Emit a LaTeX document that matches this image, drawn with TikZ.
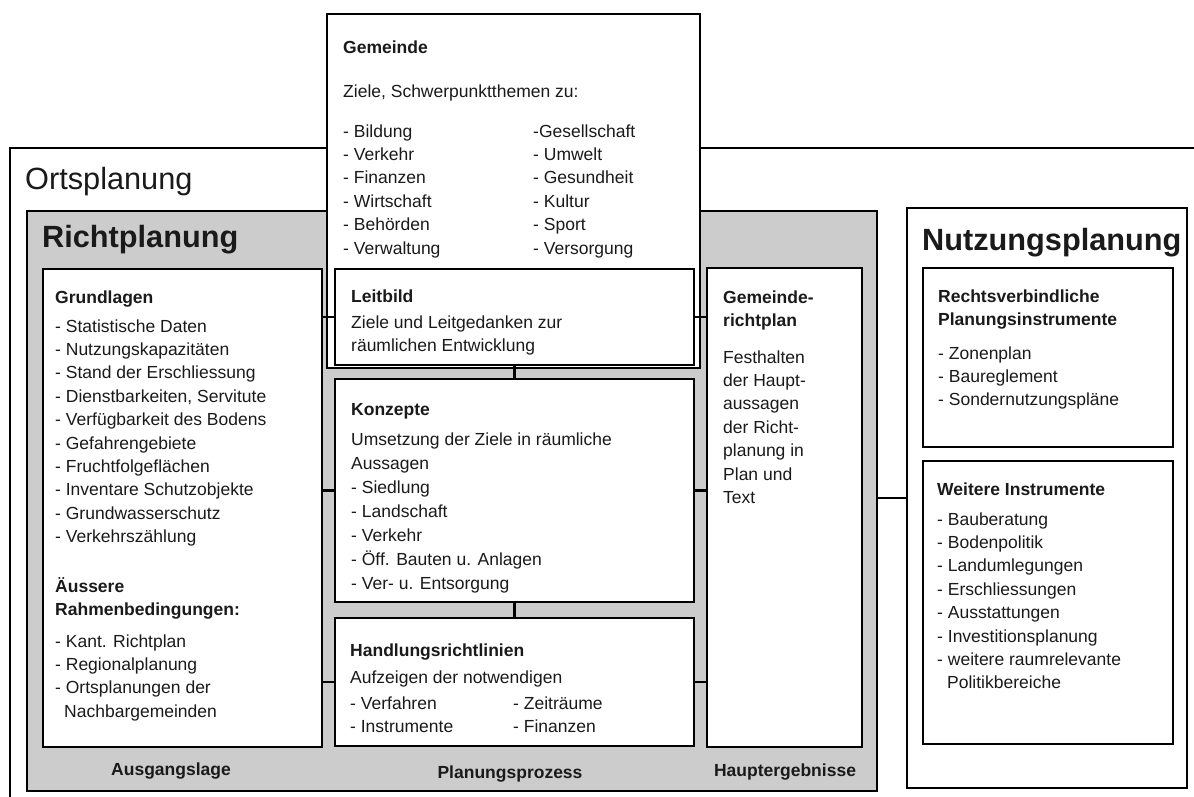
\documentclass[tikz,border=0pt]{standalone}
\usepackage{fontspec}
\setmainfont{Liberation Sans}
\usetikzlibrary{fit}
\definecolor{grayfill}{HTML}{CCCCCC}
\definecolor{txt}{HTML}{1A1A1A}
\tikzset{
  frame/.style={draw=black, line width=2.2pt, inner sep=0pt, fill=white},
  grayframe/.style={frame, fill=grayfill},
  conn/.style={draw=black, line width=2.2pt},
  lbl/.style={anchor=base west, inner sep=0pt, text=txt, font=\fontsize{17.5}{23.4}\selectfont},
  lblw/.style={anchor=base west, inner sep=0pt, text=txt, font=\fontsize{17.5}{24}\selectfont},
  hd/.style={anchor=base west, inner sep=0pt, text=txt, font=\fontsize{17.5}{23.4}\selectfont\bfseries},
  big/.style={anchor=base west, inner sep=0pt, text=txt, font=\fontsize{30.7}{36}\selectfont\bfseries},
  bigreg/.style={anchor=base west, inner sep=0pt, text=txt, font=\fontsize{30.7}{36}\selectfont},
  foot/.style={anchor=base, inner sep=0pt, text=txt, font=\fontsize{17.5}{23.4}\selectfont\bfseries},
}
\newcommand{\tlines}[1]{\begin{tabular}[t]{@{}l@{}}#1\end{tabular}}
\begin{document}
\begin{tikzpicture}[x=1pt, y=-1pt]
\useasboundingbox[clip] (0,0) rectangle (1194,796);
\fill[white] (0,0) rectangle (1194,796);

% outer Ortsplanung frame (open at right and bottom)
\node[frame, fill=none, fit={(10,148) (1210,820)}] (orts) {};
\node[bigreg] (ortst) at (25,189) {Ortsplanung};

% Richtplanung gray box
\node[grayframe, fit={(27,211) (877,791)}] (rich) {};
\node[big] (richt) at (42,247) {Richtplanung};

% Nutzungsplanung box
\node[frame, fit={(907,208) (1187,788)}] (nutz) {};
\node[big] (nutzt) at (922,250) {Nutzungsplanung};

% inner boxes of Richtplanung
\node[frame, fit={(43,269) (322,747)}] (grund) {};
\node[frame, fit={(707,268) (862,747)}] (grp) {};
\node[frame, fit={(335,379) (694,602)}] (konz) {};
\node[frame, fit={(335,618) (694,746)}] (hand) {};

% Gemeinde box and Leitbild
\node[frame, fit={(327,14) (700,368)}] (gem) {};
\node[frame, fit={(335,269) (694,365)}] (leit) {};

% inner boxes of Nutzungsplanung
\node[frame, fit={(923,268) (1173,447)}] (rv) {};
\node[frame, fit={(923,461) (1173,744)}] (wi) {};

% connectors
\draw[conn] (grund.east |- leit.west) -- (leit.west);
\draw[conn] (grund.east |- konz.west) -- (konz.west);
\draw[conn] (grund.east |- hand.west) -- (hand.west);
\draw[conn] (leit.east) -- (leit.east -| grp.west);
\draw[conn] (konz.east) -- (konz.east -| grp.west);
\draw[conn] (hand.east) -- (hand.east -| grp.west);
\draw[conn] (leit.south) -- (konz.north);
\draw[conn] (konz.south) -- (hand.north);
\draw[conn] (rich.east |- nutz.west) -- (nutz.west);

% Gemeinde texts
\node[hd] (gemh) at (343,53) {Gemeinde};
\node[lbl] (gemz) at (343,97) {Ziele, Schwerpunktthemen zu:};
\node[lbl] (gemc1) at (343,137) {\tlines{- Bildung\\- Verkehr\\- Finanzen\\- Wirtschaft\\- Behörden\\- Verwaltung}};
\node[lbl] (gemc2) at (533,137) {\tlines{-Gesellschaft\\- Umwelt\\- Gesundheit\\- Kultur\\- Sport\\- Versorgung}};

% Leitbild texts
\node[hd] (leith) at (351,302) {Leitbild};
\node[lbl] (leitt) at (351,328) {\tlines{Ziele und Leitgedanken zur\\räumlichen Entwicklung}};

% Konzepte texts
\node[hd] (konzh) at (351,415) {Konzepte};
\node[lblw] (konzt) at (351,445) {\tlines{Umsetzung der Ziele in räumliche\\Aussagen\\- Siedlung\\- Landschaft\\- Verkehr\\- Öff. Bauten u. Anlagen\\- Ver- u. Entsorgung}};

% Handlungsrichtlinien texts
\node[hd] (handh) at (350,656) {Handlungsrichtlinien};
\node[lbl] (handt) at (350,683) {Aufzeigen der notwendigen};
\node[lbl] (handc1) at (350,709) {\tlines{- Verfahren\\- Instrumente}};
\node[lbl] (handc2) at (513,709) {\tlines{- Zeiträume\\- Finanzen}};

% Grundlagen texts
\node[hd] (grundh) at (55,303) {Grundlagen};
\node[lbl] (grundt) at (55,332) {\tlines{- Statistische Daten\\- Nutzungskapazitäten\\- Stand der Erschliessung\\- Dienstbarkeiten, Servitute\\- Verfügbarkeit des Bodens\\- Gefahrengebiete\\- Fruchtfolgeflächen\\- Inventare Schutzobjekte\\- Grundwasserschutz\\- Verkehrszählung}};
\node[hd] (ausseh) at (55,592) {\tlines{Äussere\\Rahmenbedingungen:}};
\node[lbl] (ausset) at (55,647) {\tlines{- Kant. Richtplan\\- Regionalplanung\\- Ortsplanungen der\\\hspace{9pt}Nachbargemeinden}};

% Gemeinderichtplan texts
\node[hd] (grph) at (723,303) {\tlines{Gemeinde-\\richtplan}};
\node[lbl] (grpt) at (723,363) {\tlines{Festhalten\\der Haupt-\\aussagen\\der Richt-\\planung in\\Plan und\\Text}};

% Nutzungsplanung texts
\node[hd] (rvh) at (938,302) {\tlines{Rechtsverbindliche\\Planungsinstrumente}};
\node[lbl] (rvt) at (938,359) {\tlines{- Zonenplan\\- Baureglement\\- Sondernutzungspläne}};
\node[hd] (wih) at (937,495) {Weitere Instrumente};
\node[lbl] (wit) at (937,525) {\tlines{- Bauberatung\\- Bodenpolitik\\- Landumlegungen\\- Erschliessungen\\- Ausstattungen\\- Investitionsplanung\\- weitere raumrelevante\\\hspace{10pt}Politikbereiche}};

% footers
\node[foot] (f1) at (171,775) {Ausgangslage};
\node[foot] (f2) at (510,778) {Planungsprozess};
\node[foot] (f3) at (785,776) {Hauptergebnisse};
\end{tikzpicture}
\end{document}
